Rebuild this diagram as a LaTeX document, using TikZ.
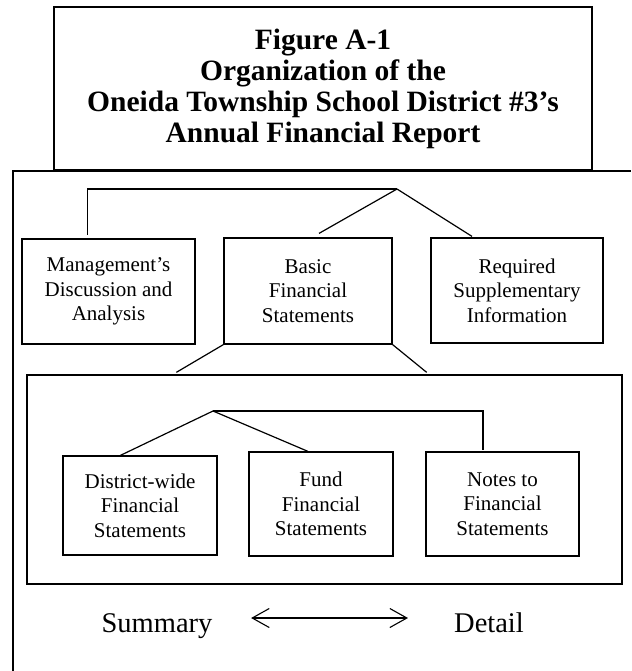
\documentclass[tikz,border=0pt]{standalone}
\usepackage{fontspec}
\setmainfont{Liberation Serif}
\usetikzlibrary{arrows.meta,calc}
\tikzset{
  box/.style={draw, line width=1.2pt, inner sep=0pt, align=center,
    font=\fontsize{21}{24.5}\selectfont},
  titlebox/.style={draw, line width=1.3pt, inner sep=0pt, align=center,
    font=\bfseries\fontsize{29.5}{31}\selectfont},
  frame/.style={line width=1.3pt},
  link/.style={line width=1.2pt},
  heavylink/.style={line width=2pt},
  bigtext/.style={font=\fontsize{28.5}{32}\selectfont, inner sep=0pt, anchor=base},
  dblarrow/.style={line width=1.1pt,
    {Straight Barb[length=17pt,width=19pt]}-{Straight Barb[length=17pt,width=19pt]}}
}
\begin{document}
\begin{tikzpicture}[x=1pt,y=-1pt]
\useasboundingbox (0,0) rectangle (631,671);
% title
\node[titlebox, minimum width=538pt, minimum height=163pt] (title) at (323,88.5)
  {Figure A-1\\Organization of the\\Oneida Township School District \#3’s\\Annual Financial Report};
% outer frame
\draw[frame] (13,671) -- (13,171) -- (631,171);
% top level boxes
\node[box, minimum width=173pt, minimum height=105pt] (mgmt) at (108.5,291.5)
  {Management’s\\Discussion and\\Analysis};
\node[box, minimum width=168pt, minimum height=106pt] (basic) at (308,291)
  {Basic\\Financial\\Statements};
\node[box, minimum width=172pt, minimum height=105pt] (req) at (517,290.5)
  {Required\\Supplementary\\Information};
% inner frame
\node[draw, line width=1.3pt, minimum width=595pt, minimum height=209pt, inner sep=0pt] (inner) at (324.5,479.5) {};
% lower boxes
\node[box, minimum width=154pt, minimum height=99pt] (dist) at (140,505.5)
  {District-wide\\Financial\\Statements};
\node[box, minimum width=144pt, minimum height=104pt] (fund) at (321,504)
  {Fund\\Financial\\Statements};
\node[box, minimum width=153pt, minimum height=104pt] (notes) at (502.5,504)
  {Notes to\\Financial\\Statements};
% top connectors
\coordinate (apex) at (397,189);
\coordinate (mL) at ([xshift=66pt,yshift=3pt]mgmt.north west);
\draw[heavylink] (apex) -- (apex -| mL);
\draw[link] (apex -| mL) -- (mL);
\draw[link] (apex) -- ([xshift=11pt,yshift=4pt]basic.north);
\draw[link] (apex) -- ([xshift=-45pt,yshift=1pt]req.north);
% basic to inner frame
\draw[link] (basic.south west) -- ([xshift=150pt,yshift=2pt]inner.north west);
\draw[link] (basic.south east) -- ([xshift=-196pt,yshift=2pt]inner.north east);
% inner connectors
\coordinate (iapex) at (213,411);
\coordinate (nT) at ([xshift=-19.5pt,yshift=1pt]notes.north);
\draw[link] (iapex) -- ([xshift=58pt]dist.north west);
\draw[link] (iapex) -- ([xshift=-13pt]fund.north);
\draw[heavylink] (iapex) -- (iapex -| nT) -- (nT);
% summary / detail
\node[bigtext] (summary) at (157,632) {Summary};
\node[bigtext] (detail) at (489,632) {Detail};
\draw[dblarrow] ([shift={(38.5pt,14pt)}]summary.base east) -- ([shift={(-46pt,14pt)}]detail.base west);
\end{tikzpicture}
\end{document}
